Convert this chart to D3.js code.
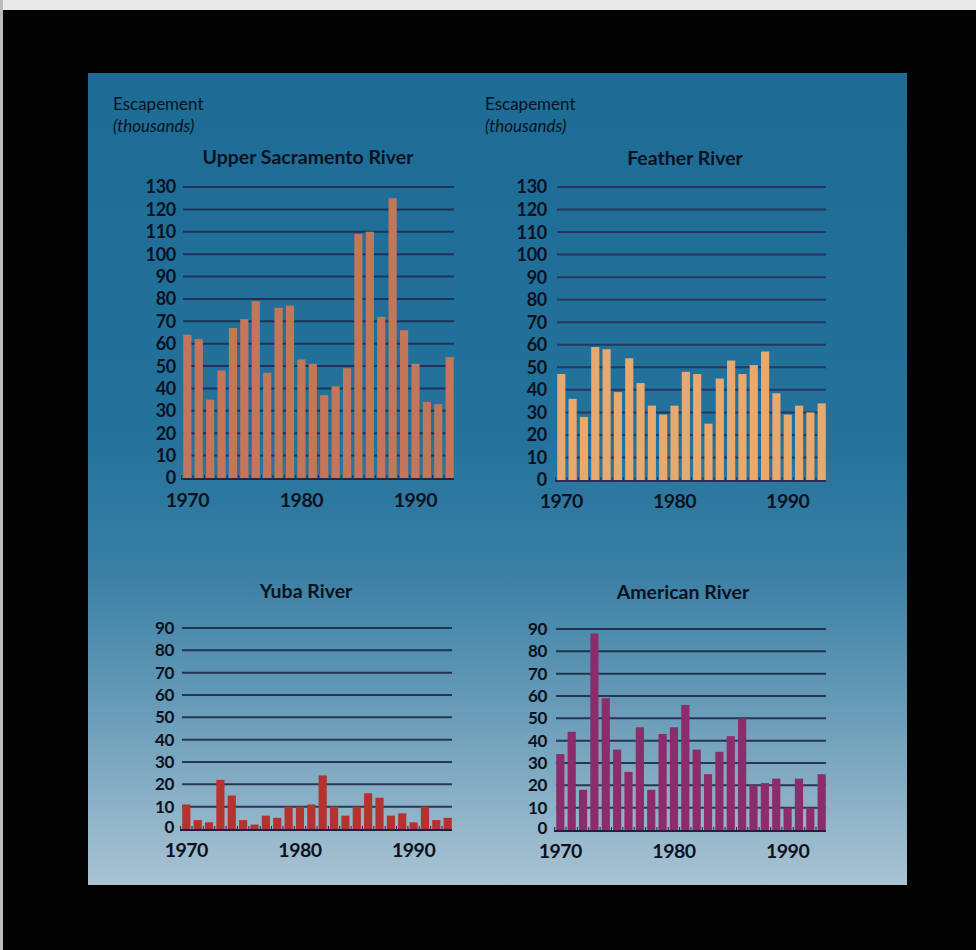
<!DOCTYPE html>
<html>
<head>
<meta charset="utf-8">
<script src="https://cdn.jsdelivr.net/npm/d3@7/dist/d3.min.js"></script>
<style>
html,body{margin:0;padding:0;background:#000;}
svg{display:block;}
text{font-family:Lato,"Noto Sans",sans-serif;fill:#0c1120;}
</style>
</head>
<body>
<svg id="chart" width="976" height="950"></svg>
<script>
// ---- data ----
const years = d3.range(1970, 1994);
const sacramento = [64,62,35,48,67,71,79,47,76,77,53,51,37,41,49,109,110,72,125,66,51,34,33,54];
const feather    = [47,36,28,59,58,39,54,43,33,29,33,48,47,25,45,53,47,51,57,38.5,29,33,30,34];
const yuba       = [11,4,3,22,15,4,2,6,5,10,10,11,24,10,6,10,16,14,6,7,3,10,4,5];
const american   = [34,44,18,88,59,36,26,46,18,43,46,56,36,25,35,42,50,20,21,23,10,23,10,25];
const ticksTop    = d3.range(0, 131, 10);
const ticksBottom = d3.range(0, 91, 10);
const yearLabels  = [1970, 1980, 1990];
const titles = ["Upper Sacramento River", "Feather River", "Yuba River", "American River"];
const unitLine1 = "Escapement";
const unitLine2 = "(thousands)";

// ---- frame ----
const svg = d3.select("#chart");
svg.append("rect").attr("x",0).attr("y",0).attr("width",976).attr("height",950).attr("fill","#030303");
svg.append("rect").attr("x",0).attr("y",0).attr("width",976).attr("height",10).attr("fill","#e9e9e9");
svg.append("rect").attr("x",0).attr("y",0).attr("width",3).attr("height",950).attr("fill","#bdbdbd");

const defs = svg.append("defs");
const grad = defs.append("linearGradient").attr("id","bg").attr("x1",0).attr("y1",0).attr("x2",0).attr("y2",1);
[[0,"#1c6c96"],[0.45,"#23729b"],[0.62,"#3b80a5"],[0.8,"#6d9fba"],[1,"#a9c3d3"]].forEach(([o,c])=>
  grad.append("stop").attr("offset",o).attr("stop-color",c));
svg.append("rect").attr("x",88).attr("y",73).attr("width",819).attr("height",812).attr("fill","url(#bg)");

// ---- panels (layout only) ----
const panels = [
  {data:sacramento, title:titles[0], ticks:ticksTop, max:130, x0:183, x1:454, yTop:187, y0:478, color:"#c4765a", grid:"#1a2a4c", labelX:176, titleX:308, titleY:164, yearY:507, tickSize:18, unit:true, unitX:113},
  {data:feather,    title:titles[1], ticks:ticksTop, max:130, x0:557, x1:826, yTop:187, y0:480, color:"#e8a96e", grid:"#2a2c55", labelX:547, titleX:685, titleY:165, yearY:508, tickSize:18, unit:true, unitX:485},
  {data:yuba,       title:titles[2], ticks:ticksBottom, max:90, x0:182, x1:452, yTop:628, y0:829, color:"#b5332f", grid:"#1a2240", labelX:174, titleX:306, titleY:598, yearY:857, tickSize:17, zeroShift:-2},
  {data:american,   title:titles[3], ticks:ticksBottom, max:90, x0:556, x1:826, yTop:629, y0:830, color:"#8c2c6b", grid:"#1a2240", labelX:547, titleX:683, titleY:599, yearY:858, tickSize:17, zeroShift:-2}
];

panels.forEach(p => {
  const g = svg.append("g");
  const x = d3.scaleBand().domain(years).range([p.x0, p.x1]).paddingInner(0.28).paddingOuter(0.02);
  const y = d3.scaleLinear().domain([0, p.max]).range([p.y0, p.yTop]);

  // gridlines
  g.append("g").selectAll("line").data(p.ticks.filter(t=>t>0)).join("line")
    .attr("x1", p.x0).attr("x2", p.x1)
    .attr("y1", d=>y(d)).attr("y2", d=>y(d))
    .attr("stroke", p.grid).attr("stroke-width", 2).attr("stroke-opacity", 0.85);

  // y tick labels
  g.append("g").selectAll("text").data(p.ticks).join("text")
    .attr("x", p.labelX).attr("y", d=>y(d) + (d===0 && p.zeroShift ? p.zeroShift : 0)).attr("dy","0.36em")
    .attr("text-anchor","end").attr("font-size",p.tickSize).attr("font-weight",700)
    .attr("letter-spacing","-0.3")
    .text(d=>d);

  // bars
  g.append("g").selectAll("rect").data(p.data).join("rect")
    .attr("x", (d,i)=>x(years[i])).attr("width", x.bandwidth())
    .attr("y", d=>y(d)).attr("height", d=>y(0)-y(d))
    .attr("fill", p.color);

  // baseline with small ticks
  g.append("line").attr("x1",p.x0-2).attr("x2",p.x1).attr("y1",y(0)+1).attr("y2",y(0)+1)
    .attr("stroke",p.grid).attr("stroke-width",2);
  g.append("g").selectAll("line").data(years).join("line")
    .attr("x1", d=>x(d)-x.step()*x.paddingInner()/2).attr("x2", d=>x(d)-x.step()*x.paddingInner()/2)
    .attr("y1", y(0)-3).attr("y2", y(0)+2)
    .attr("stroke", p.grid).attr("stroke-width",1);

  // year labels
  g.append("g").selectAll("text").data(yearLabels).join("text")
    .attr("x", d=>x(d)+x.bandwidth()/2).attr("y", p.yearY)
    .attr("text-anchor","middle").attr("font-size",19.5).attr("font-weight",700)
    .attr("letter-spacing","-0.5")
    .text(d=>d);

  // title
  g.append("text").attr("x",p.titleX).attr("y",p.titleY).attr("text-anchor","middle")
    .attr("font-size",19.5).attr("font-weight",700).text(p.title);

  if (p.unit) {
    g.append("text").attr("x",p.unitX).attr("y",110).attr("font-size",17).attr("font-weight",400).text(unitLine1);
    g.append("text").attr("x",p.unitX).attr("y",132).attr("font-size",17).attr("font-style","italic").text(unitLine2);
  }
});
</script>
</body>
</html>
